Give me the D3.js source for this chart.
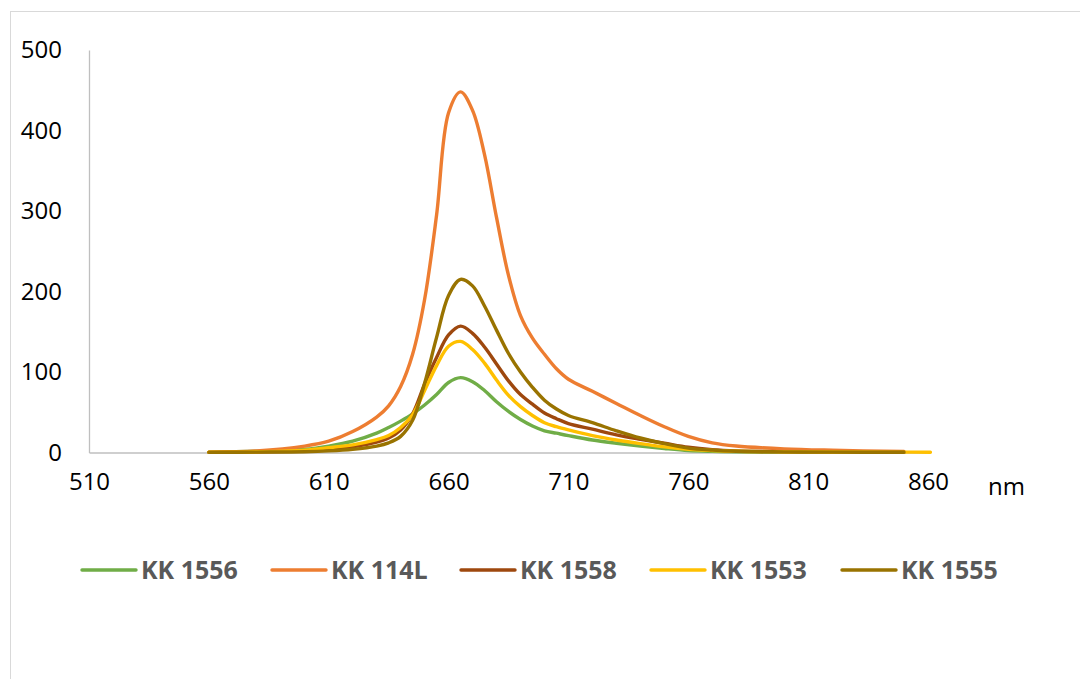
<!DOCTYPE html>
<html>
<head>
<meta charset="utf-8">
<script src="https://cdn.jsdelivr.net/npm/d3@7"></script>
<style>
  body { margin: 0; background: #fff; }
  #wrapper { width: 1080px; height: 679px; }
</style>
</head>
<body>
<div id="wrapper"></div>
<script>
// wavelengths (nm) shared by all series
const wavelengths = [560, 580, 600, 610, 620, 630, 635, 640, 645, 650, 655, 660, 665, 670, 675, 680, 685, 690, 695, 700, 705, 710, 720, 730, 740, 750, 760, 770, 780, 800, 820, 850];
const wavelengths1553 = wavelengths.concat([861]);

const kk1556 = [0.5, 1.5, 4, 8, 14, 24, 31, 39, 48, 59, 72, 87, 93, 88, 77, 63, 51, 41, 33, 27, 24, 21, 15.5, 11.5, 8, 5, 2.5, 1.5, 1, 0.5, 0.3, 0.2];
const kk114L = [0.5, 2, 8, 14, 26, 44, 58, 82, 122, 190, 295, 422, 448, 425, 370, 292, 220, 170, 142, 122, 104, 91, 76, 61, 46, 32, 20, 12, 8, 4.5, 2.8, 1.2];
const kk1558 = [0.2, 0.6, 2, 4, 7, 13, 18, 28, 48, 85, 118, 146, 157, 148, 131, 110, 89, 72, 60, 49, 42, 36, 29, 22, 16.5, 11.5, 6.5, 3.5, 2, 1, 0.6, 0.4];
const kk1553 = [0.3, 1, 3, 6, 9.5, 16, 21, 31, 47, 77, 108, 132, 138, 128, 111, 90, 71, 57, 46, 37, 32, 28, 21, 15.5, 11, 7, 4, 2.5, 1.5, 1, 0.7, 0.5, 0.4];
const kk1555 = [0.2, 0.5, 1, 2, 4, 8, 12, 20, 40, 86, 143, 195, 215, 207, 182, 152, 123, 100, 81, 65, 54, 46, 37, 27, 18, 11, 5.5, 3, 1.5, 0.8, 0.5, 0.3];

const seriesNames = ["KK 1556", "KK 114L", "KK 1558", "KK 1553", "KK 1555"];
const seriesColors = ["#70AD47", "#ED7D31", "#9E480E", "#FFC000", "#997300"];

const xTicks = [510, 560, 610, 660, 710, 760, 810, 860];
const yTicks = [0, 100, 200, 300, 400, 500];

function buildPlot() {
    const series = [
        { name: seriesNames[0], x: wavelengths, y: kk1556 },
        { name: seriesNames[1], x: wavelengths, y: kk114L },
        { name: seriesNames[2], x: wavelengths, y: kk1558 },
        { name: seriesNames[3], x: wavelengths1553, y: kk1553 },
        { name: seriesNames[4], x: wavelengths, y: kk1555 }
    ];

    var dimension = {
        width: 1080,
        height: 679,
        left: 89,
        right: 928,
        top: 50,
        bottom: 452.5
    };

    const svg = d3.select("#wrapper").append("svg")
        .attr("width", dimension.width)
        .attr("height", dimension.height)
        .style("font-family", "'Open Sans', 'Liberation Sans', sans-serif");

    // outer frame
    svg.append("rect")
        .attr("x", 10.5)
        .attr("y", 11.5)
        .attr("width", 1100)
        .attr("height", 700)
        .attr("fill", "none")
        .attr("stroke", "#D9D9D9")
        .attr("stroke-width", 1);

    const scaleX = d3.scaleLinear()
        .domain([510, 860])
        .range([dimension.left, dimension.right]);

    const scaleY = d3.scaleLinear()
        .domain([0, 500])
        .range([dimension.bottom, dimension.top]);

    // axes
    const xAxis = svg.append("g")
        .attr("transform", `translate(0,${dimension.bottom})`)
        .call(d3.axisBottom(scaleX).tickValues(xTicks).tickSize(0).tickPadding(20).tickFormat(d3.format("d")));
    xAxis.select(".domain").attr("stroke", "#BFBFBF").attr("stroke-width", 1.3);
    xAxis.selectAll("text")
        .attr("font-size", "24px")
        .attr("fill", "#000")
        .attr("font-family", "'Open Sans', sans-serif");

    const yAxis = svg.append("g")
        .attr("transform", `translate(${dimension.left},0)`)
        .call(d3.axisLeft(scaleY).tickValues(yTicks).tickSize(0).tickPadding(27).tickFormat(d3.format("d")));
    yAxis.select(".domain").attr("stroke", "#BFBFBF").attr("stroke-width", 1.3);
    yAxis.selectAll("text")
        .attr("font-size", "24px")
        .attr("fill", "#000")
        .attr("font-family", "'Open Sans', sans-serif");

    svg.append("text")
        .attr("x", 988)
        .attr("y", 495)
        .attr("font-size", "24px")
        .attr("fill", "#000")
        .text("nm");

    // lines, drawn in legend order so the last is on top
    const line = d3.line()
        .x(d => scaleX(d[0]))
        .y(d => scaleY(d[1]))
        .curve(d3.curveCatmullRom.alpha(0.5));

    series.forEach((s, i) => {
        const pts = s.x.map((v, j) => [v, s.y[j]]);
        svg.append("path")
            .datum(pts)
            .attr("d", line)
            .attr("fill", "none")
            .attr("stroke", seriesColors[i])
            .attr("stroke-width", 3.4)
            .attr("stroke-linejoin", "round")
            .attr("stroke-linecap", "round");
    });

    // legend
    const legendX = [82, 272, 461, 651, 842];
    const legend = svg.append("g");
    seriesNames.forEach((name, i) => {
        const g = legend.append("g").attr("transform", `translate(${legendX[i]},570)`);
        g.append("line")
            .attr("x1", 0).attr("x2", 54)
            .attr("y1", 0).attr("y2", 0)
            .attr("stroke", seriesColors[i])
            .attr("stroke-width", 3.4)
            .attr("stroke-linecap", "round");
        g.append("text")
            .attr("x", 59)
            .attr("y", 9)
            .attr("font-size", "25px")
            .attr("font-weight", "bold")
            .attr("fill", "#595959")
            .text(name);
    });
}

buildPlot();
</script>
</body>
</html>
